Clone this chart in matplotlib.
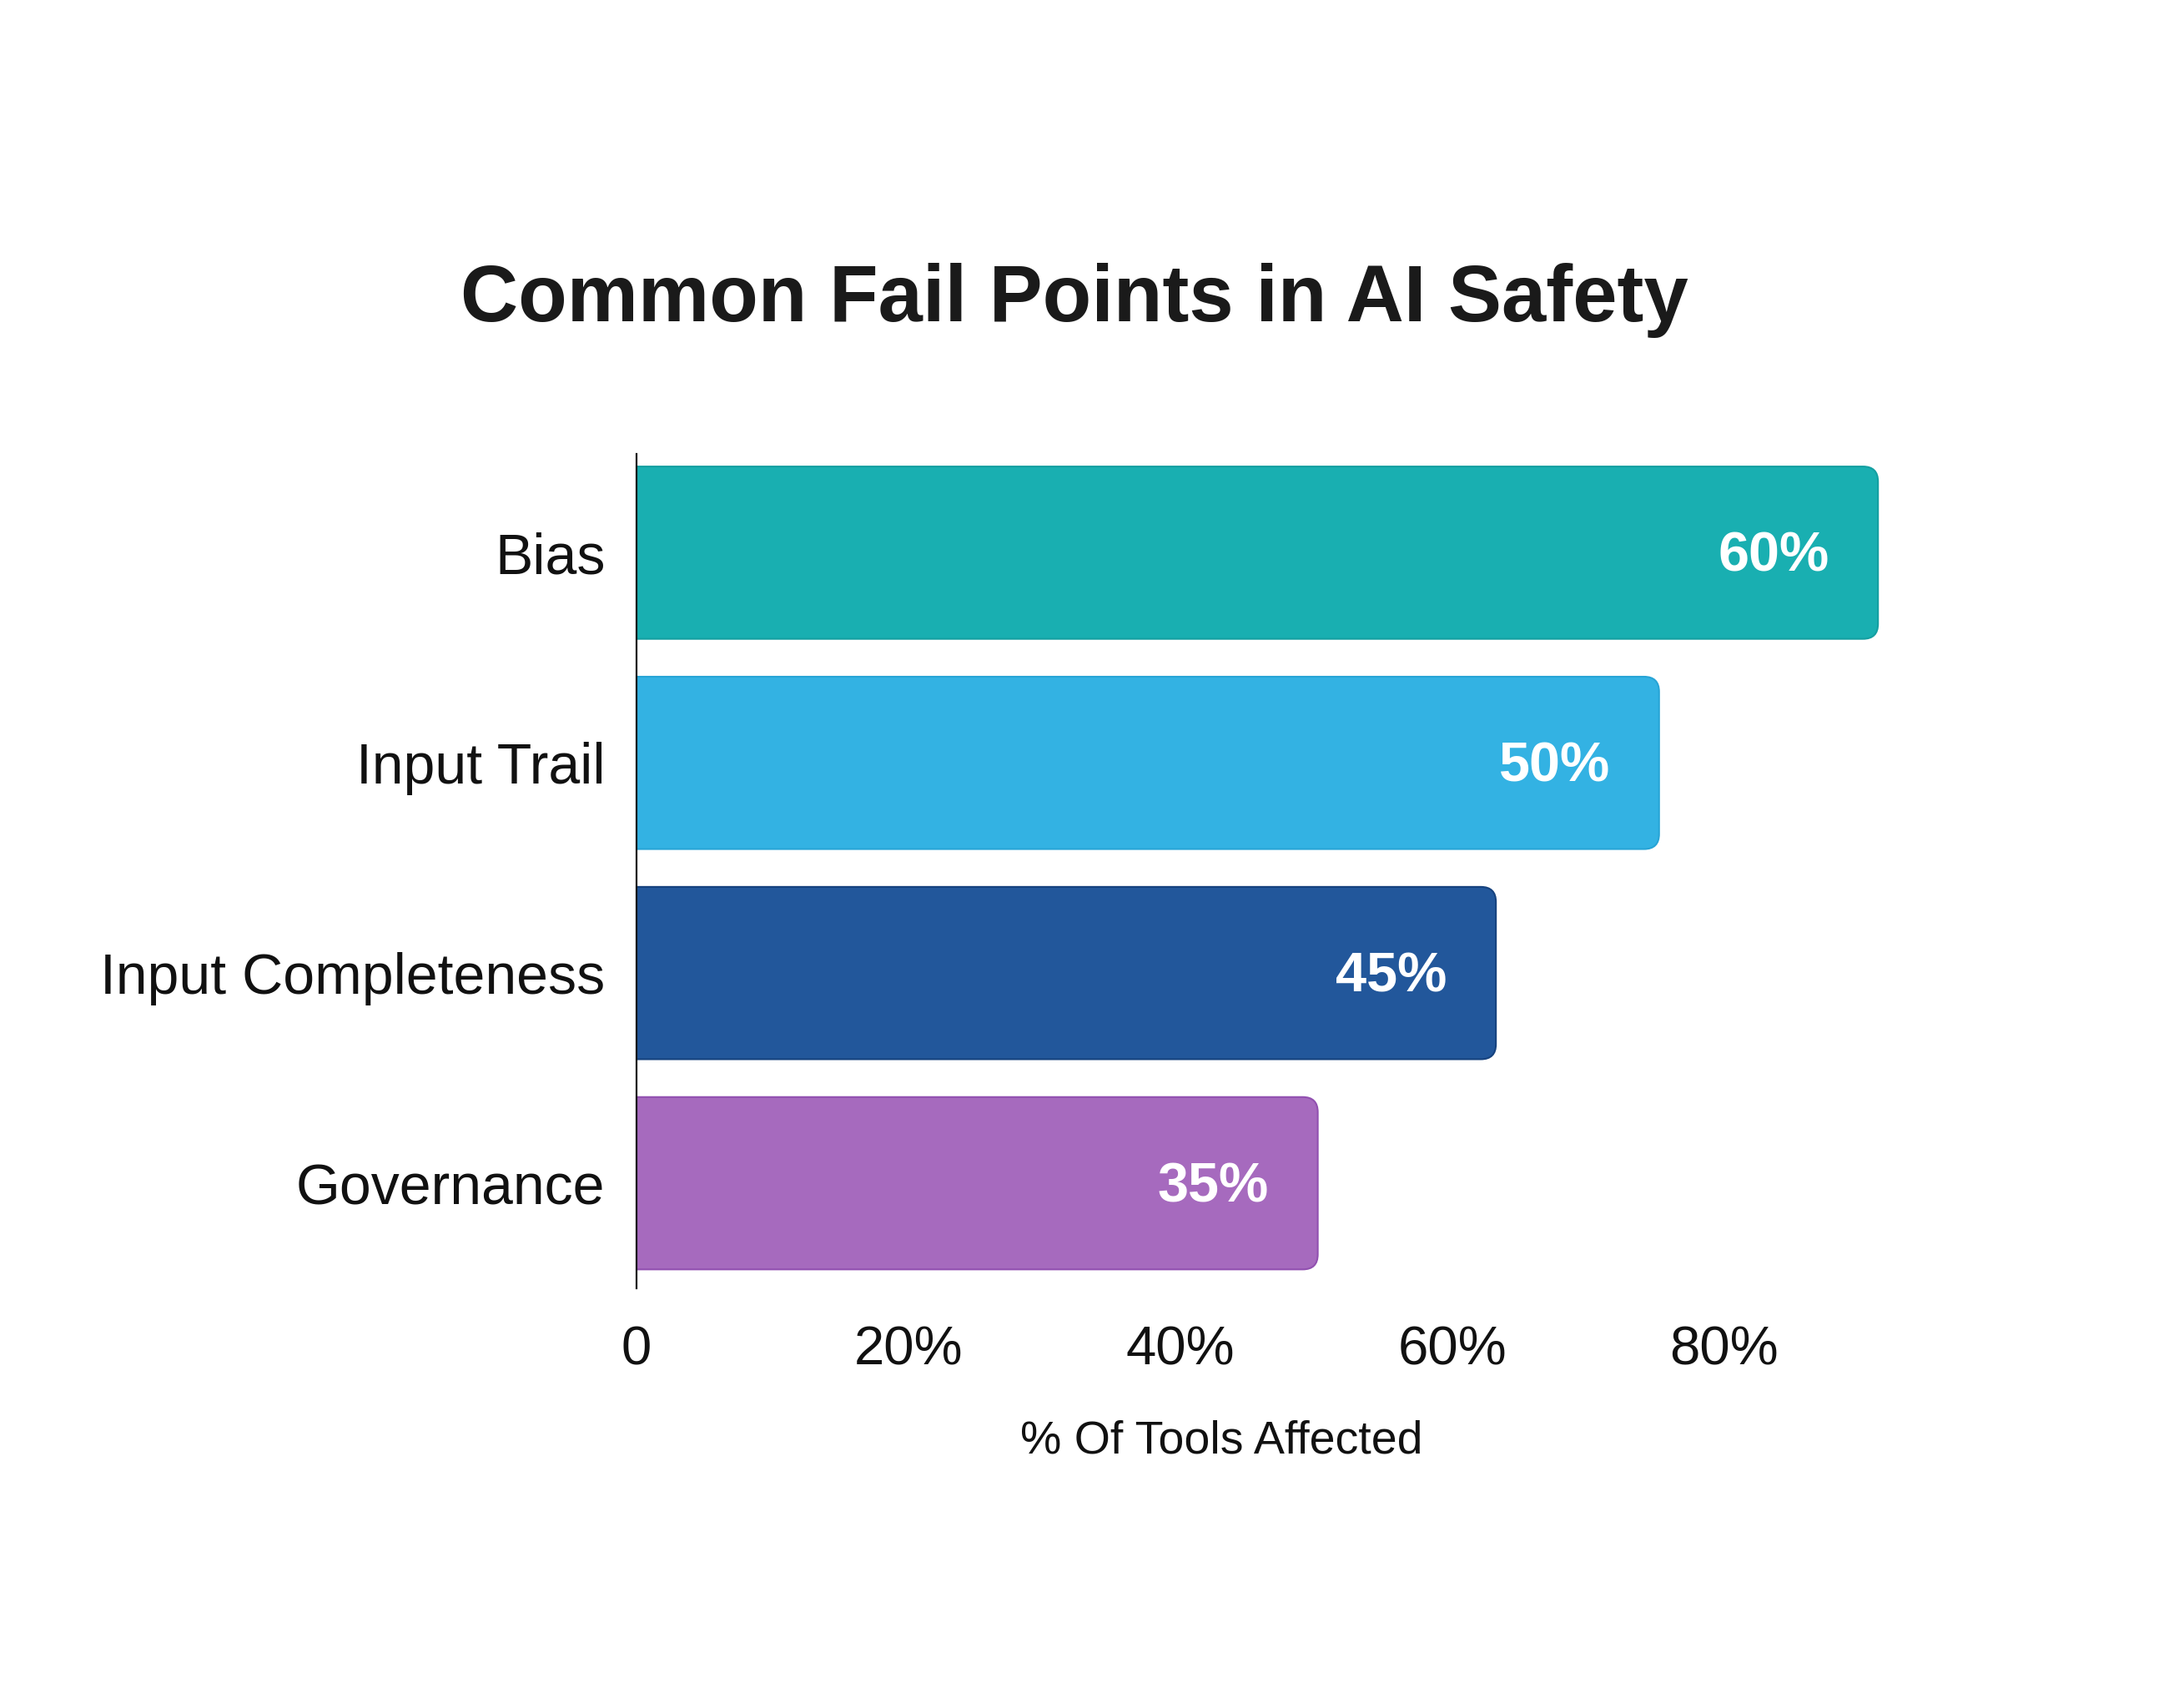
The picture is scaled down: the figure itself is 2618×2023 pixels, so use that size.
import matplotlib.pyplot as plt
from matplotlib.patches import FancyBboxPatch

# data
categories = ['Bias', 'Input Trail', 'Input Completeness', 'Governance']
bar_values = [91.3, 75.2, 63.2, 50.1]   # bar lengths on the x axis
value_labels = ['60%', '50%', '45%', '35%']
bar_colors = ['#19afb1', '#33b2e3', '#22579b', '#a66abe']
edge_colors = ['#149fa1', '#27a4d6', '#16427e', '#9150b0']
xticks = [0, 20, 40, 60, 80]
xtick_labels = ['0', '20%', '40%', '60%', '80%']

W, H = 2618, 2023
fig = plt.figure(figsize=(W / 100, H / 100), dpi=100)
fig.patch.set_facecolor('white')
plt.rcParams['font.family'] = ['Liberation Sans', 'DejaVu Sans']

# axes placed in pixel terms of the reference
x0, x1 = 763, 763 + 95 * 16.3
y_top, y_bot = 544, 1544
ax = fig.add_axes([x0 / W, 1 - y_bot / H, (x1 - x0) / W, (y_bot - y_top) / H])

ypos = list(range(len(categories)))
bars = ax.barh(ypos, bar_values, height=0.82, color=bar_colors)
ax.set_xlim(0, 95)
ax.set_ylim(3.5, -0.47)

# swap plain bars for rounded ones (left end hidden behind the axis)
aspect = (1 / 251.0) / (1 / 16.3)
for b, fc, ec in zip(bars, bar_colors, edge_colors):
    x, y = b.get_x(), b.get_y()
    w, h = b.get_width(), b.get_height()
    b.remove()
    p = FancyBboxPatch((x - 3, y), w + 3, h,
                       boxstyle='round,pad=0,rounding_size=1.1',
                       mutation_aspect=aspect,
                       facecolor=fc, edgecolor=ec, linewidth=1.5, zorder=2)
    p.set_clip_path(ax.patch)
    ax.add_patch(p)

for yp, v, lab in zip(ypos, bar_values, value_labels):
    ax.text(v - 3.6, yp + 0.02, lab, ha='right', va='center', color='white',
            fontsize=48, fontweight='bold', zorder=3)

ax.set_yticks(ypos)
ax.set_yticklabels(categories, fontsize=49, color='#111111')
ax.set_xticks(xticks)
ax.set_xticklabels(xtick_labels, fontsize=47, color='#111111')
ax.tick_params(axis='y', length=0, pad=27)
ax.tick_params(axis='x', length=0, pad=32)

for s in ['top', 'right', 'bottom']:
    ax.spines[s].set_visible(False)
ax.spines['left'].set_linewidth(1.6)
ax.spines['left'].set_color('#111111')

fig.text(1464 / W, 1 - 1728 / H, '% Of Tools Affected', ha='center',
         va='center', fontsize=40, color='#111111')
fig.text(1288 / W, 1 - 360 / H, 'Common Fail Points in AI Safety',
         ha='center', va='center', fontsize=69, fontweight='bold',
         color='#1a1a1a')

fig.savefig('out.png', dpi=100, facecolor='white')
